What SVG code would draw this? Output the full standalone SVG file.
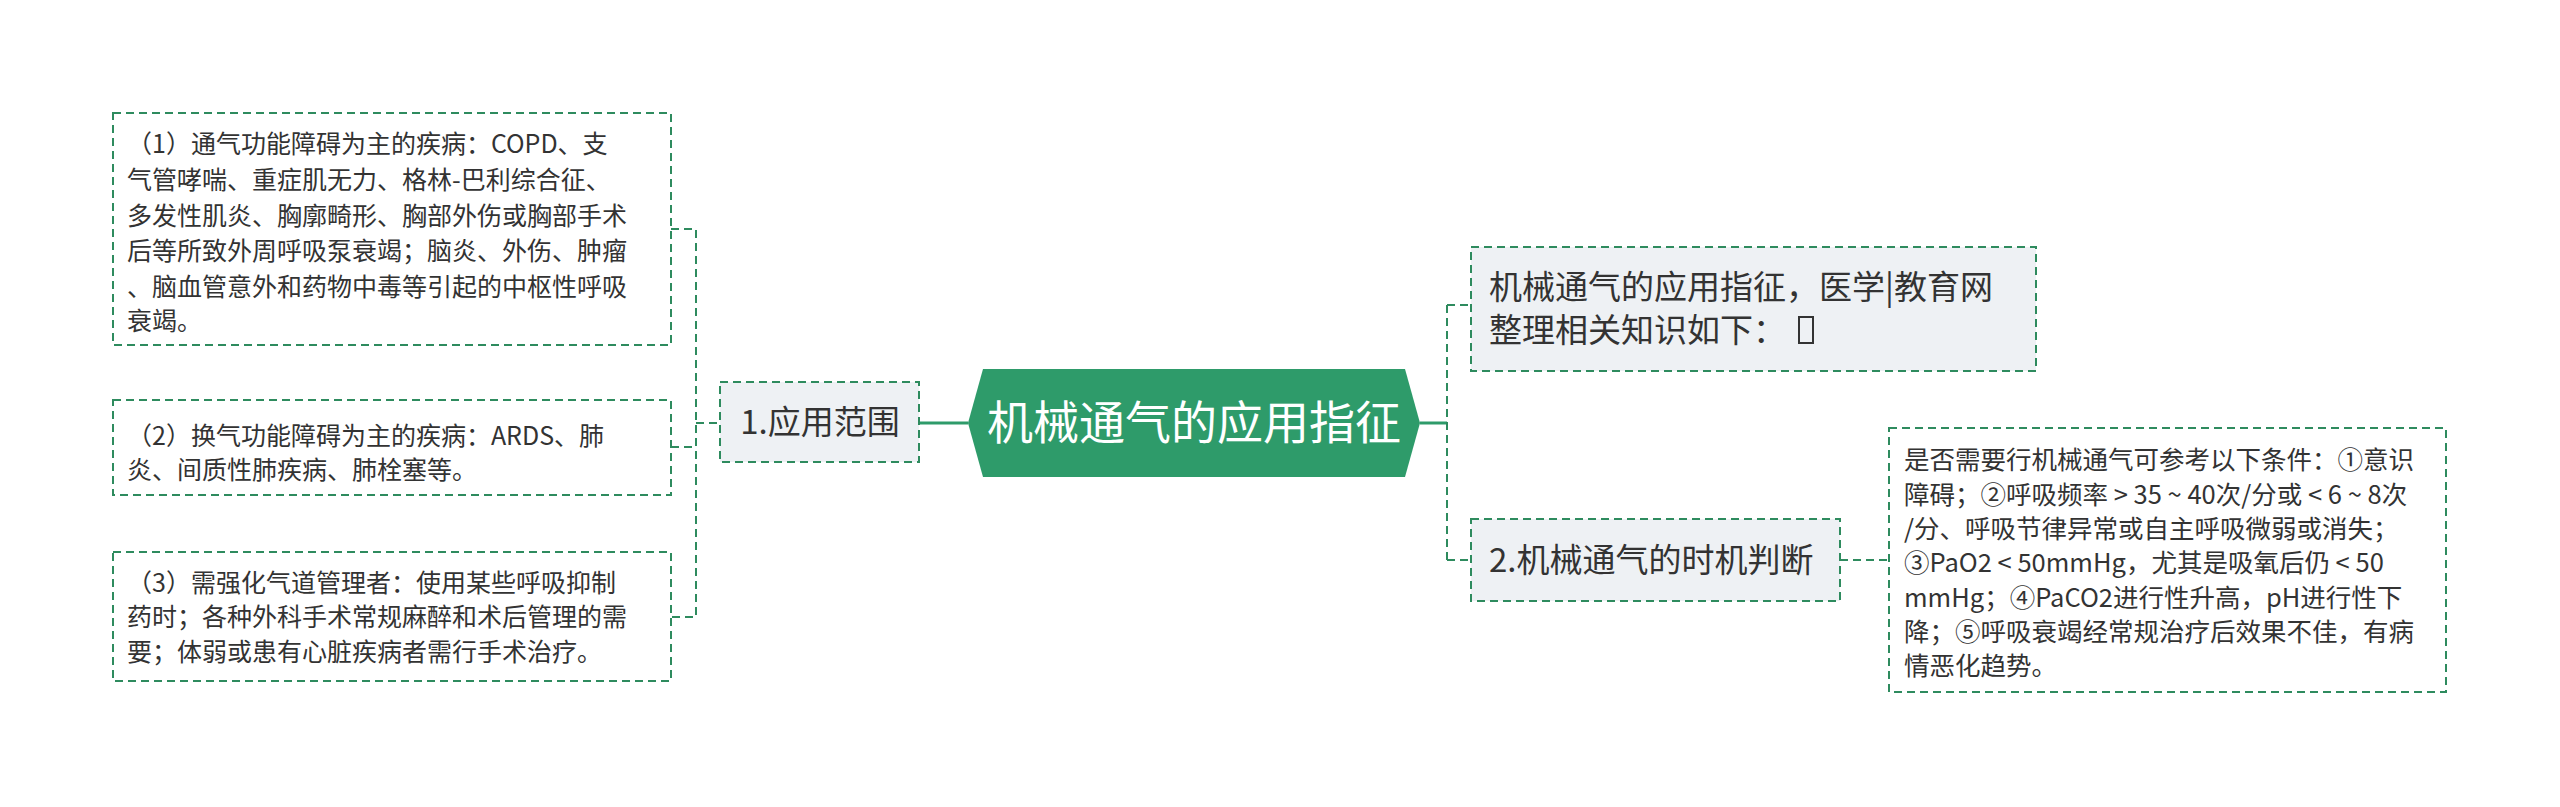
<svg xmlns="http://www.w3.org/2000/svg" width="2560" height="807" viewBox="0 0 2560 807">
<style>
text{font-family:"Noto Sans CJK SC","Noto Sans",sans-serif;fill:#333}
.box{fill:#fff;stroke:#2e8b5e;stroke-width:2;stroke-dasharray:8 5}
.nb{fill:#eef1f4;stroke:#2e8b5e;stroke-width:2;stroke-dasharray:8 5}
.dl{fill:none;stroke:#2e8b5e;stroke-width:2;stroke-dasharray:8 5}
.sl{fill:none;stroke:#2e9b6a;stroke-width:3}
.s{font-size:25px}
.r{font-size:25.5px}
.m{font-size:33px}
</style>
<rect width="2560" height="807" fill="#fff"/>
<g id="connectors">
<path class="sl" d="M919 423H968"/>
<path class="dl" d="M671 229H696V617H671M671 447H696M696 423H720"/>
<path class="sl" d="M1420 423H1447"/>
<path class="dl" d="M1447 305V560M1447 305H1471M1447 560H1471M1840 560H1889"/>
</g>
<g id="center">
<polygon points="968,423 983,369 1405,369 1420,423 1405,477 983,477" fill="#2e9b6a"/>
<text x="1194" y="439" text-anchor="middle" font-size="46" style="fill:#fff">机械通气的应用指征</text>
</g>
<g id="n1">
<rect class="nb" x="720" y="382" width="199" height="80"/>
<text class="m" x="820" y="434" text-anchor="middle">1.应用范围</text>
</g>
<g id="b1">
<rect class="box" x="113" y="113" width="558" height="232"/>
<text class="s"><tspan x="127" y="153">（1）通气功能障碍为主的疾病：COPD、支</tspan><tspan x="127" y="189">气管哮喘、重症肌无力、格林-巴利综合征、</tspan><tspan x="127" y="225">多发性肌炎、胸廓畸形、胸部外伤或胸部手术</tspan><tspan x="127" y="260">后等所致外周呼吸泵衰竭；脑炎、外伤、肿瘤</tspan><tspan x="127" y="296">、脑血管意外和药物中毒等引起的中枢性呼吸</tspan><tspan x="127" y="330">衰竭。</tspan></text>
</g>
<g id="b2">
<rect class="box" x="113" y="400" width="558" height="95"/>
<text class="s"><tspan x="127" y="445">（2）换气功能障碍为主的疾病：ARDS、肺</tspan><tspan x="127" y="479">炎、间质性肺疾病、肺栓塞等。</tspan></text>
</g>
<g id="b3">
<rect class="box" x="113" y="552" width="558" height="129"/>
<text class="s"><tspan x="127" y="592">（3）需强化气道管理者：使用某些呼吸抑制</tspan><tspan x="127" y="626">药时；各种外科手术常规麻醉和术后管理的需</tspan><tspan x="127" y="661">要；体弱或患有心脏疾病者需行手术治疗。</tspan></text>
</g>
<g id="n3">
<rect class="nb" x="1471" y="247" width="565" height="124"/>
<text class="m"><tspan x="1489" y="299">机械通气的应用指征，医学|教育网</tspan><tspan x="1489" y="342">整理相关知识如下：</tspan></text>
<rect x="1799" y="317" width="14" height="26" fill="none" stroke="#333" stroke-width="2"/>
</g>
<g id="n2">
<rect class="nb" x="1471" y="519" width="369" height="82"/>
<text class="m" x="1489" y="572">2.机械通气的时机判断</text>
</g>
<g id="b4">
<rect class="box" x="1889" y="428" width="557" height="264"/>
<text class="r"><tspan x="1904" y="469">是否需要行机械通气可参考以下条件：①意识</tspan><tspan x="1904" y="504">障碍；②呼吸频率 &gt; 35 ~ 40次/分或 &lt; 6 ~ 8次</tspan><tspan x="1904" y="538">/分、呼吸节律异常或自主呼吸微弱或消失；</tspan><tspan x="1904" y="572">③PaO2 &lt; 50mmHg，尤其是吸氧后仍 &lt; 50</tspan><tspan x="1904" y="607">mmHg；④PaCO2进行性升高，pH进行性下</tspan><tspan x="1904" y="641">降；⑤呼吸衰竭经常规治疗后效果不佳，有病</tspan><tspan x="1904" y="675">情恶化趋势。</tspan></text>
</g>
</svg>
